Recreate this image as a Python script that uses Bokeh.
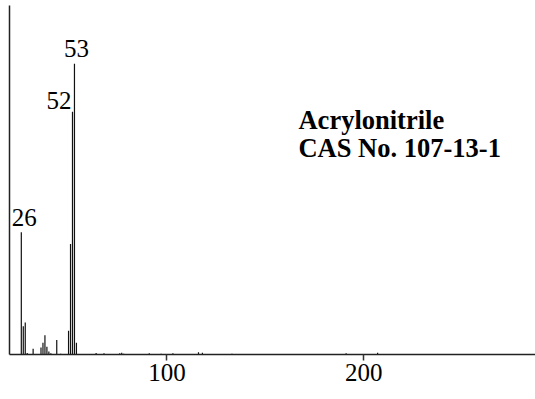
from bokeh.plotting import figure
from bokeh.models import FixedTicker, Label, ColumnDataSource
from bokeh.embed import file_html
from bokeh.resources import INLINE

# EI mass spectrum of acrylonitrile: m/z and relative intensity (%)
mz = [26, 27, 28, 29, 32, 36, 37, 38, 39, 40, 41, 44, 46,
      50, 51, 52, 53, 54,
      64, 68, 76, 77, 78, 91, 97, 103, 116, 118, 133, 191, 207]
intensity = [42.0, 9.7, 11.0, 0.5, 2.0, 2.4, 4.0, 6.6, 2.7, 1.0, 0.4, 5.0, 0.3,
             8.2, 38.0, 83.5, 100.0, 4.0,
             0.5, 0.4, 0.4, 0.6, 0.3, 0.4, 0.3, 0.4, 0.8, 0.6, 0.3, 0.4, 0.6]

labelled_mz = [26, 52, 53]
x_ticks = [100, 200]
title_lines = ["Acrylonitrile", "CAS No. 107-13-1"]

FONT = "Liberation Serif"
LIFT = 10  # extra lift so the text sits above its anchor

p = figure(width=535, height=399, output_backend="svg", toolbar_location=None,
           x_range=(20, 287.2), y_range=(0, 120),
           min_border_left=9, min_border_right=0, min_border_top=5,
           min_border_bottom=45)
p.outline_line_color = None
p.xgrid.visible = False
p.ygrid.visible = False
p.background_fill_color = "white"
p.border_fill_color = "white"

src = ColumnDataSource(dict(mz=mz, y0=[0] * len(mz), inten=intensity))
p.segment(x0="mz", y0="y0", x1="mz", y1="inten", source=src,
          line_color="#111111", line_width=1.2)

# bottom axis
xa = p.xaxis[0]
xa.ticker = FixedTicker(ticks=x_ticks)
xa.minor_tick_line_color = None
xa.major_tick_in = 0
xa.major_tick_out = 6
xa.major_tick_line_color = "#333333"
xa.major_tick_line_width = 1.5
xa.axis_line_color = "#222222"
xa.axis_line_width = 1.5
xa.major_label_text_font = FONT
xa.major_label_text_font_size = "25px"
xa.major_label_text_color = "black"
xa.major_label_standoff = 3

# left axis: line only
ya = p.yaxis[0]
ya.ticker = FixedTicker(ticks=[])
ya.minor_tick_line_color = None
ya.major_tick_line_color = None
ya.major_label_text_font_size = "0px"
ya.major_label_standoff = 0
ya.axis_line_color = "#222222"
ya.axis_line_width = 1.5

# peak labels
peak = dict(zip(mz, intensity))
label_style = dict(text_font=FONT, text_font_size="25px", text_color="black",
                   text_baseline="alphabetic")
for m in labelled_mz:
    if m == 52:
        p.add_layout(Label(x=m, y=peak[m], text=str(m), text_align="right",
                           x_offset=-1, y_offset=1 + LIFT, **label_style))
    else:
        p.add_layout(Label(x=m, y=peak[m], text=str(m), text_align="center",
                           x_offset=2 if m == 53 else 3, y_offset=5 + LIFT,
                           **label_style))

# compound name and CAS number
for i, t in enumerate(title_lines):
    p.add_layout(Label(x=166.8, y=77.3, y_offset=LIFT - 28 * i, text=t,
                       text_font=FONT, text_font_size="26.5px", text_font_style="bold",
                       text_color="black", text_align="left",
                       text_baseline="alphabetic"))

open("out.html", "w").write(file_html(p, INLINE))
